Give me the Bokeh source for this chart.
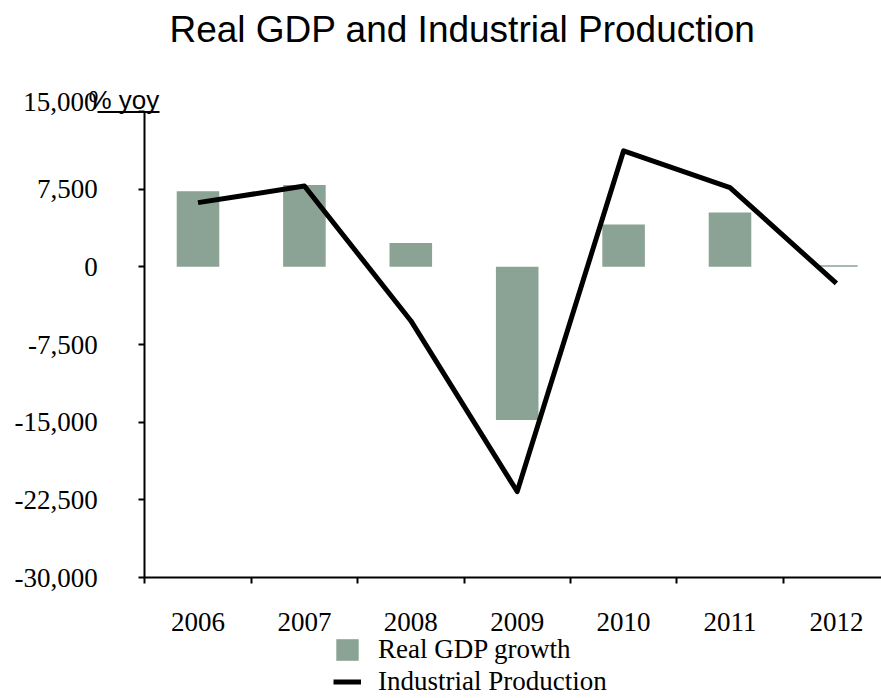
from bokeh.plotting import figure
from bokeh.models import (Range1d, FixedTicker, NumeralTickFormatter, Label, Legend,
                          LegendItem, Arrow, ColumnDataSource)
from bokeh.core.properties import value
from bokeh.embed import file_html
from bokeh.resources import INLINE
import numpy as np

# ---- data ----
years = ["2006", "2007", "2008", "2009", "2010", "2011", "2012"]
gdp_growth = [7300, 7900, 2300, -14800, 4100, 5250, 150]
industrial_production = [6200, 7800, -5200, -21700, 11200, 7650, -1600]
y_ticks = [-30000, -22500, -15000, -7500, 0, 7500, 15000]

W, H = 881, 698
# plot-area geometry (pixels) of the reference
left_px, top_px, bottom_px, cat_px = 144.3, 111.0, 577.0, 106.4
y_lo, y_hi = y_ticks[0], y_ticks[-1]
per_px = (y_hi - y_lo) / (bottom_px - top_px)

x_pos = np.arange(len(years)) + 0.5
src = ColumnDataSource(dict(x=x_pos, gdp=gdp_growth, ip=industrial_production))

p = figure(width=W, height=H, output_backend="svg", toolbar_location=None,
           x_range=Range1d(-left_px / cat_px, (W - left_px) / cat_px),
           y_range=Range1d(y_lo - (H - bottom_px) * per_px, y_hi + top_px * per_px),
           min_border=0, min_border_left=0, min_border_right=0,
           min_border_top=0, min_border_bottom=0)
p.outline_line_color = None
p.grid.visible = False
p.background_fill_color = "white"
p.border_fill_color = "white"

bars = p.vbar(x="x", top="gdp", bottom=0, width=0.4, source=src,
              fill_color="#8aa395", line_color=None)
line = p.line(x="x", y="ip", source=src, line_width=5, line_color="black",
              line_join="round")

# y axis
ya = p.yaxis[0]
ya.fixed_location = 0
ya.bounds = (y_lo, y_hi)
ya.ticker = FixedTicker(ticks=y_ticks, minor_ticks=[])
ya.formatter = NumeralTickFormatter(format="0,0")
ya.major_label_overrides = {y_hi: " "}
ya.major_label_text_font = "Liberation Serif"
ya.major_label_text_font_size = "27px"
ya.major_label_text_color = "black"
ya.major_tick_out = 6
ya.major_tick_in = 0
ya.minor_tick_out = 0
ya.minor_tick_in = 0
ya.axis_line_width = 2
ya.major_tick_line_width = 2
ya.major_label_standoff = 41

# top tick label sits a little higher in the reference
p.add_layout(Label(x=97, y=y_hi, x_units="screen", y_units="data", y_offset=10,
                   text=f"{y_hi:,}", text_font="Liberation Serif",
                   text_font_size="27px", text_align="right", text_baseline="middle",
                   text_color="black"))

# x axis
xa = p.xaxis[0]
xa.fixed_location = y_lo
xa.bounds = (0, len(years))
xa.ticker = FixedTicker(ticks=list(x_pos), minor_ticks=list(range(len(years) + 1)))
xa.major_label_overrides = {float(xv): yr for xv, yr in zip(x_pos, years)}
xa.major_label_text_font = "Liberation Serif"
xa.major_label_text_font_size = "27px"
xa.major_label_text_color = "black"
xa.major_tick_out = 0
xa.major_tick_in = 0
xa.minor_tick_out = 6
xa.minor_tick_in = 0
xa.minor_tick_line_width = 2
xa.minor_tick_line_color = "black"
xa.axis_line_width = 2
xa.major_label_standoff = 29

# title
p.add_layout(Label(x=462, y=H - 29, x_units="screen", y_units="screen",
                   text="Real GDP and Industrial Production",
                   text_font="Liberation Sans", text_font_size="37px",
                   text_align="center", text_baseline="alphabetic", text_color="black"))

# axis unit label
p.add_layout(Label(x=88, y=H - 99, x_units="screen", y_units="screen",
                   text="% yoy", text_font="Liberation Sans", text_font_size="26px",
                   text_align="left", text_baseline="alphabetic", text_color="black"))
p.add_layout(Arrow(x_start=97, y_start=H - 111.5, x_end=159, y_end=H - 111.5,
                   start_units="screen", end_units="screen", start=None, end=None,
                   line_width=2, line_color="black"))

legend = Legend(items=[LegendItem(label=value("Real GDP growth"), renderers=[bars]),
                       LegendItem(label=value("Industrial Production"), renderers=[line])],
                location=(333, 1.5), orientation="vertical",
                label_text_font="Liberation Serif", label_text_font_size="27px",
                label_text_color="black",
                glyph_width=28, glyph_height=27, label_height=29, label_standoff=17,
                spacing=1, padding=0, margin=0, border_line_color=None,
                background_fill_alpha=0)
p.add_layout(legend, "center")

open("out.html", "w").write(file_html(p, INLINE))
